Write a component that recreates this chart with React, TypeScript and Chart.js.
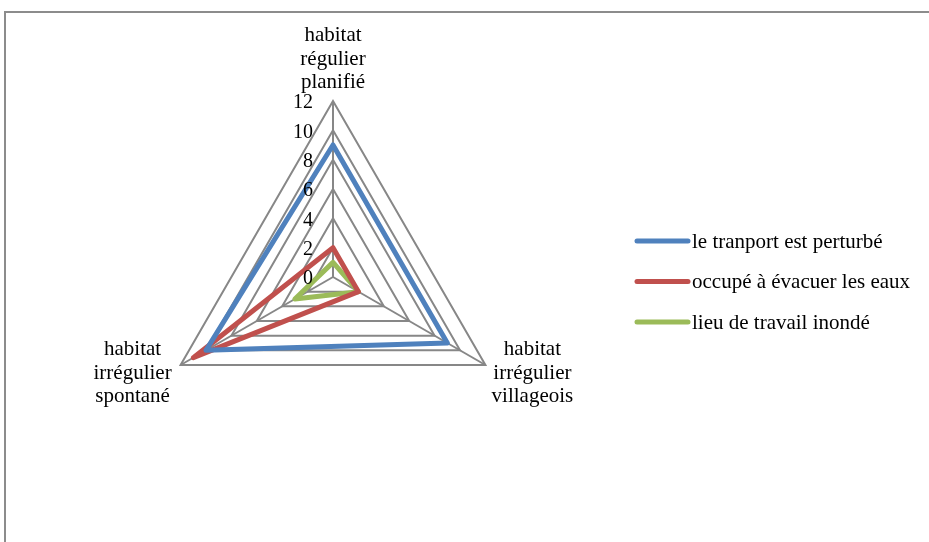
import React, { useEffect, useRef } from "react";
import { Chart, registerables } from "chart.js";

Chart.register(...registerables);

const categories: string[][] = [
  ["habitat", "régulier", "planifié"],
  ["habitat", "irrégulier", "villageois"],
  ["habitat", "irrégulier", "spontané"],
];

const seriesNames = [
  "le tranport est perturbé",
  "occupé à évacuer les eaux",
  "lieu de travail inondé",
];

const transportValues = [9, 9, 10];
const evacuationValues = [2, 2, 11];
const workplaceValues = [1, 2, 3];

const seriesColors = ["#4F81BD", "#C0504D", "#9BBB59"];

const scaleMin = 0;
const scaleMax = 12;
const scaleStep = 2;

const FONT = '"Liberation Serif", "Times New Roman", serif';
const GRID = "#878787";

// Frame, tick labels, multi-line category labels and legend
const decorations = {
  id: "decorations",
  beforeDraw(chart: any) {
    const ctx = chart.ctx;
    ctx.save();
    ctx.strokeStyle = "#8c8c8c";
    ctx.lineWidth = 2;
    ctx.beginPath();
    ctx.moveTo(5, 542);
    ctx.lineTo(5, 12);
    ctx.lineTo(929, 12);
    ctx.stroke();
    ctx.restore();
  },
  afterDraw(chart: any) {
    const ctx = chart.ctx;
    const scale = chart.scales.r;
    ctx.save();
    ctx.fillStyle = "#000";

    // tick values, right-aligned beside the vertical spoke
    ctx.font = `20px ${FONT}`;
    ctx.textAlign = "right";
    ctx.textBaseline = "middle";
    scale.ticks.forEach((t: any) => {
      const d = scale.getDistanceFromCenterForValue(t.value);
      ctx.fillText(String(t.value), scale.xCenter - 20, scale.yCenter - d + 2);
    });

    // category labels
    ctx.font = `21px ${FONT}`;
    ctx.textAlign = "center";
    ctx.textBaseline = "alphabetic";
    const lineH = 23.5;
    const labels = chart.data.labels as string[][];
    labels.forEach((lines, i) => {
      const p = scale.getPointPosition(i, scale.drawingArea);
      let cx = p.x;
      let firstBase = p.y;
      if (i === 0) {
        firstBase = p.y - 13 - lineH * (lines.length - 1);
      } else if (p.x > scale.xCenter) {
        cx = p.x + 47;
        firstBase = p.y - 10;
      } else {
        cx = p.x - 48;
        firstBase = p.y - 10;
      }
      lines.forEach((ln, k) => ctx.fillText(ln, cx, firstBase + k * lineH));
    });

    // legend
    ctx.textAlign = "left";
    ctx.textBaseline = "middle";
    ctx.lineCap = "round";
    chart.data.datasets.forEach((ds: any, i: number) => {
      const y = 241 + i * 40.5;
      ctx.strokeStyle = ds.borderColor;
      ctx.lineWidth = 5;
      ctx.beginPath();
      ctx.moveTo(637, y);
      ctx.lineTo(688, y);
      ctx.stroke();
      ctx.fillStyle = "#000";
      ctx.fillText(ds.label, 692, y + 1);
    });
    ctx.restore();
  },
};

export default function App() {
  const canvasRef = useRef<HTMLCanvasElement | null>(null);

  useEffect(() => {
    if (!canvasRef.current) return;
    const values = [transportValues, evacuationValues, workplaceValues];
    const chart = new Chart(canvasRef.current, {
      type: "radar",
      data: {
        labels: categories as any,
        datasets: seriesNames.map((name, i) => ({
          label: name,
          data: values[i],
          borderColor: seriesColors[i],
          backgroundColor: seriesColors[i],
          borderWidth: 5,
          borderJoinStyle: "round" as const,
          pointRadius: 0,
          pointHoverRadius: 0,
          fill: false,
          tension: 0,
        })),
      },
      options: {
        responsive: false,
        animation: false,
        devicePixelRatio: 1,
        layout: { padding: { left: 157, right: 419, top: 101, bottom: 88 } },
        plugins: {
          legend: { display: false },
          tooltip: { enabled: false },
        },
        scales: {
          r: {
            min: scaleMin,
            max: scaleMax,
            ticks: { stepSize: scaleStep, display: false },
            pointLabels: { display: false },
            grid: { color: GRID, lineWidth: 2 },
            angleLines: { color: GRID, lineWidth: 2 },
          },
        },
      },
      plugins: [decorations],
    });
    return () => chart.destroy();
  }, []);

  return (
    <div style={{ position: "fixed", left: 0, top: 0, width: 929, height: 542, background: "#fff" }}>
      <canvas ref={canvasRef} width={929} height={542} />
    </div>
  );
}
